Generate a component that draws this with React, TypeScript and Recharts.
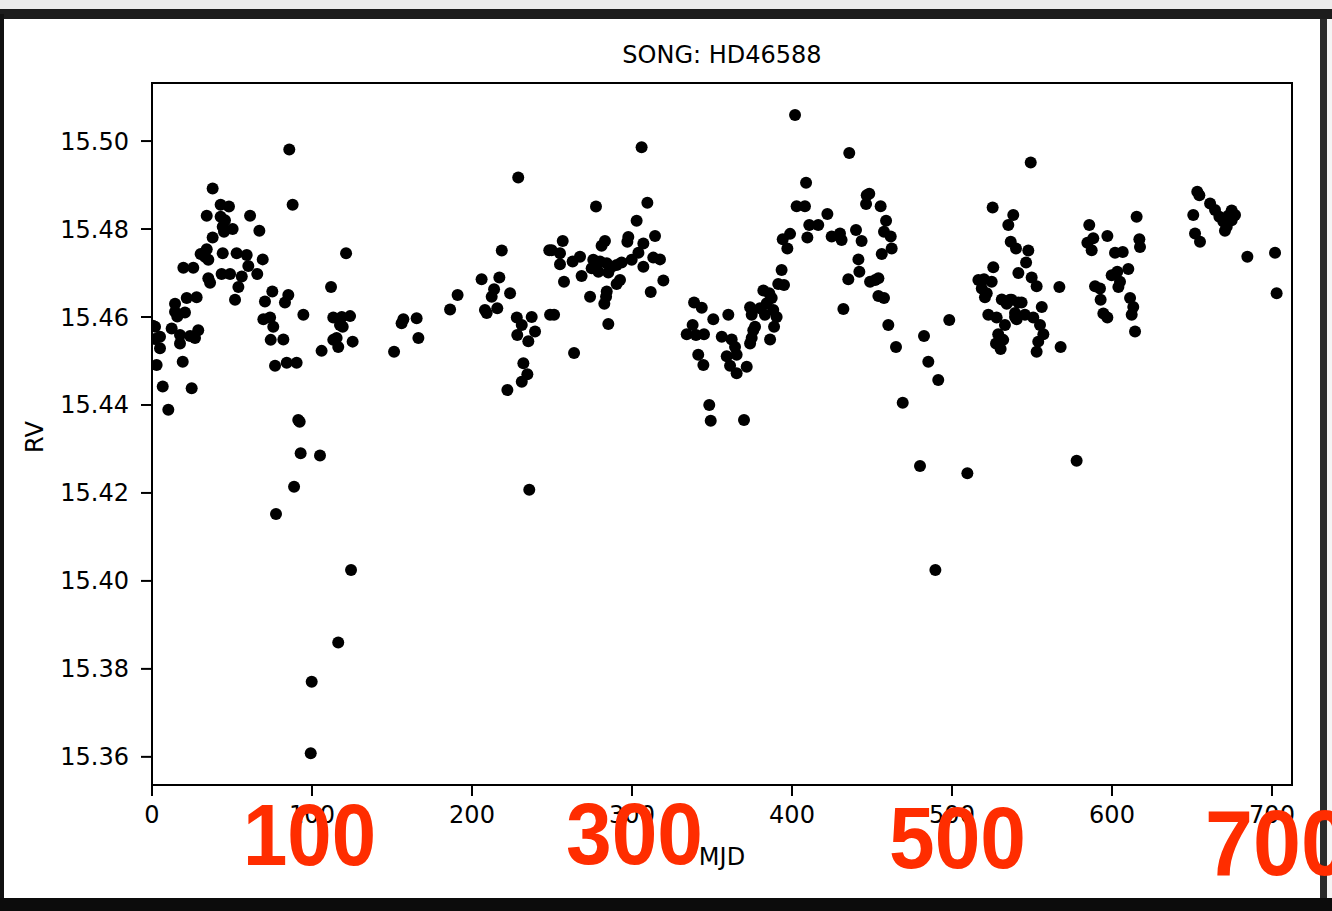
import React from 'react';
import { ScatterChart, Scatter, XAxis, YAxis, ReferenceArea } from 'recharts';

// Season 1
const s1Mjd = [0.5, 2, 1.9, 5, 5, 2.9, 6.7, 10.2, 12.3, 17.5, 23.8, 26.9, 28.9, 17.5, 19.2, 24.8, 14.4, 14.4, 20.6, 15.8, 21.7, 27.9, 19.6, 25.8, 30.4, 33.1, 34.2, 35.2, 35.2, 36.3, 37.9, 37.9, 34.2, 42.9, 48.1, 42.9, 45.6, 44.2, 50.4, 45, 44.2, 52.9, 59.2, 43.5, 48.8, 56.1, 54, 51.9, 60.2, 61.3, 65.8, 67.1, 69.2, 70.6, 69.6, 73.8, 75.2, 75.8, 74.2, 76.9, 77.5, 82.1, 83.1, 85.2, 84.2, 85.8, 87.9, 88.8, 90.4, 91.4, 92.3, 92.9, 94.6, 99.2, 99.8, 105, 106, 111.9, 113.3, 113.3, 115.4, 116.4, 116.4, 117.5, 118.6, 119.2, 121.3, 123.8, 124.4, 125.4];
const s1Rv = [15.458, 15.455, 15.4578, 15.4555, 15.4529, 15.4491, 15.4442, 15.4389, 15.4574, 15.4559, 15.4557, 15.4552, 15.457, 15.454, 15.4498, 15.4438, 15.463, 15.4612, 15.461, 15.4601, 15.4643, 15.4645, 15.4712, 15.4712, 15.4743, 15.4737, 15.4754, 15.473, 15.4688, 15.4678, 15.4781, 15.4892, 15.483, 15.4855, 15.4851, 15.4828, 15.482, 15.4805, 15.48, 15.4794, 15.4745, 15.4745, 15.4741, 15.4698, 15.4698, 15.4692, 15.4668, 15.4639, 15.4716, 15.483, 15.4698, 15.4796, 15.4731, 15.4635, 15.4595, 15.4599, 15.4658, 15.4578, 15.4548, 15.4489, 15.4152, 15.4549, 15.4633, 15.465, 15.4496, 15.4981, 15.4855, 15.4214, 15.4496, 15.4366, 15.4362, 15.429, 15.4605, 15.3608, 15.3771, 15.4285, 15.4523, 15.4668, 15.4599, 15.4548, 15.4552, 15.4532, 15.386, 15.4582, 15.46, 15.4578, 15.4745, 15.4602, 15.4025, 15.4544];

// Season 2
const s2Mjd = [151.3, 156, 157.1, 165.4, 166.5, 186.3, 191, 206, 208.1, 209.2, 212.3, 213.8, 215.8, 217.1, 218.6, 222.1, 223.8, 228, 228.3, 228.9, 231.1, 231.1, 232.1, 234.6, 235.2, 235.8, 237.3, 239.4, 248.3, 248.8, 249.8, 251.3, 255, 255, 256.7, 257.5, 262.9, 263.8, 267.5, 268.5, 273.8, 274.8, 275.8, 277.5, 279, 280, 281, 282.7, 283.1, 283.8, 284.2, 284.2, 285.2, 285.2, 287.3, 290.4, 290.4, 292.5, 293.5, 297.1, 297.7, 299.8, 302.9, 304, 306, 307.1, 307.1, 309.6, 311.7, 313.3, 314.4, 317.5, 319.6];
const s2Rv = [15.4521, 15.4586, 15.4595, 15.4597, 15.4552, 15.4617, 15.465, 15.4686, 15.4616, 15.4609, 15.4646, 15.4663, 15.462, 15.469, 15.4751, 15.4434, 15.4654, 15.4599, 15.4559, 15.4917, 15.4582, 15.4453, 15.4495, 15.447, 15.4545, 15.4207, 15.46, 15.4567, 15.4752, 15.4605, 15.4752, 15.4605, 15.4745, 15.472, 15.4773, 15.468, 15.4726, 15.4518, 15.4737, 15.4693, 15.4646, 15.4711, 15.473, 15.4851, 15.4703, 15.4726, 15.4762, 15.463, 15.4773, 15.4646, 15.4722, 15.4658, 15.4701, 15.4584, 15.4714, 15.4718, 15.4675, 15.4684, 15.4724, 15.4771, 15.4782, 15.473, 15.4819, 15.4746, 15.4986, 15.4767, 15.4714, 15.486, 15.4657, 15.4735, 15.4784, 15.4731, 15.4683];

// Season 3
const s3Mjd = [334.2, 337.9, 338.8, 340, 341.4, 343.6, 344.6, 345, 348.3, 349.2, 350.8, 356.1, 359.2, 360.2, 361.3, 362.3, 364.4, 365.4, 365.4, 370, 371.7, 373.8, 373.8, 374.8, 374.8, 375.8, 376.9, 380, 382.1, 383.1, 384.2, 385.8, 386.3, 387.3, 388.3, 388.8, 390.4, 391.4, 393.5, 394.2, 395, 397.1, 398.8, 401.9, 402.9, 408.1, 408.8, 409.6, 410.8, 416.4, 422.1, 424.8, 430, 431, 432.1, 435.2, 435.8, 440, 441.5, 442.1, 443.5, 446.3, 446.7, 448.3, 448.8, 452, 454, 454, 455.4, 456.1, 457.5, 457.5, 458.8, 460.2, 461.7, 462.3, 465, 469.2, 480, 482.5, 485.2, 489.6, 491.4, 498.3, 509.6];
const s3Rv = [15.4561, 15.4582, 15.4633, 15.4559, 15.4514, 15.4621, 15.4491, 15.4561, 15.44, 15.4364, 15.4595, 15.4555, 15.4511, 15.4605, 15.4489, 15.4549, 15.4532, 15.4514, 15.4472, 15.4366, 15.4487, 15.4622, 15.454, 15.4605, 15.4552, 15.457, 15.4578, 15.462, 15.466, 15.4605, 15.4631, 15.4654, 15.4549, 15.4643, 15.4616, 15.4578, 15.46, 15.4675, 15.4707, 15.4777, 15.4673, 15.4756, 15.4789, 15.5059, 15.4852, 15.4852, 15.4905, 15.4781, 15.4809, 15.4809, 15.4834, 15.4783, 15.479, 15.4775, 15.4618, 15.4686, 15.4973, 15.4798, 15.4731, 15.4703, 15.4773, 15.4857, 15.4877, 15.488, 15.468, 15.4684, 15.4688, 15.4648, 15.4852, 15.4743, 15.4794, 15.4643, 15.4819, 15.4582, 15.4783, 15.4756, 15.4532, 15.4405, 15.4261, 15.4557, 15.4498, 15.4025, 15.4457, 15.4593, 15.4245];

// Season 4
const s4Mjd = [516.5, 518.6, 520, 520.6, 521.7, 522.7, 524.8, 525.4, 525.8, 527.5, 527.9, 528.9, 530.4, 531.1, 532, 533.1, 534.2, 535.2, 536.3, 536.7, 537.3, 538.3, 539.4, 539.4, 540, 540.4, 541.5, 541.5, 543.5, 545.6, 546.3, 547.7, 549.2, 549.8, 550.8, 552.9, 552.9, 553.9, 555, 556.1, 557.1, 567.1, 567.9, 577.9, 584.6, 585.8, 587.3, 588.3, 589.4, 592.5, 592.9, 594.6, 597.1, 597.1, 599.8, 601.9, 603.3, 604, 605, 606.7, 610.2, 611.3, 612.3, 613.3, 614.4, 615.4, 617.1, 617.5];
const s4Rv = [15.4684, 15.4665, 15.4686, 15.4645, 15.4654, 15.4605, 15.468, 15.4849, 15.4713, 15.454, 15.4599, 15.4561, 15.4527, 15.464, 15.4548, 15.4582, 15.463, 15.4809, 15.4639, 15.4771, 15.4639, 15.4832, 15.46, 15.4609, 15.4756, 15.4595, 15.47, 15.4633, 15.4633, 15.4605, 15.4724, 15.4751, 15.4951, 15.469, 15.4599, 15.467, 15.4521, 15.4544, 15.4582, 15.4623, 15.4561, 15.4668, 15.4532, 15.4273, 15.4769, 15.4809, 15.4752, 15.4779, 15.467, 15.4665, 15.4639, 15.4608, 15.4599, 15.4784, 15.4695, 15.4746, 15.4703, 15.4668, 15.468, 15.4748, 15.4709, 15.4643, 15.4605, 15.4623, 15.4567, 15.4828, 15.4777, 15.4759];

// Season 5
const s5Mjd = [650.8, 651.9, 653.3, 654.6, 655, 661.3, 664.4, 667.1, 669.6, 670.6, 671.7, 672.7, 674.8, 674.8, 676.9, 684.6, 701.9, 702.9];
const s5Rv = [15.4832, 15.479, 15.4885, 15.4877, 15.4771, 15.4858, 15.4843, 15.4828, 15.4817, 15.4796, 15.4805, 15.483, 15.4842, 15.482, 15.4832, 15.4737, 15.4746, 15.4654];

const xTicks = [0, 100, 200, 300, 400, 500, 600, 700];
const yTicks = [15.36, 15.38, 15.40, 15.42, 15.44, 15.46, 15.48, 15.50];
const xDomain = [0, 712.5];
const yDomain = [15.3536, 15.5132];

const title = 'SONG: HD46588';
const xLabel = 'MJD';
const yLabel = 'RV';
const overlayLabels = ['100', '300', '500', '700'];

const allMjd = [...s1Mjd, ...s2Mjd, ...s3Mjd, ...s4Mjd, ...s5Mjd];
const allRv = [...s1Rv, ...s2Rv, ...s3Rv, ...s4Rv, ...s5Rv];
const data = allMjd.map((m, i) => ({ mjd: m, rv: allRv[i] }));

const FONT = '"DejaVu Sans", sans-serif';

const Dot = (props: any) => {
  const { cx, cy } = props;
  if (cx == null || cy == null) return null;
  return <circle cx={cx} cy={cy} r={6} fill="#000" />;
};

export default function App() {
  const tickStyle = { fontSize: 24, fontFamily: FONT, fill: '#000' };
  return (
    <div style={{ position: 'absolute', left: 0, top: 0, width: 1332, height: 911, background: '#fff', overflow: 'hidden' }}>
      {/* frame */}
      <div style={{ position: 'absolute', left: 0, top: 0, width: 1332, height: 9, background: '#ececec' }} />
      <div style={{ position: 'absolute', left: 0, top: 9, width: 1332, height: 10, background: '#1c1c1c' }} />
      <div style={{ position: 'absolute', left: 0, top: 14, width: 4, height: 897, background: '#111' }} />
      <div style={{ position: 'absolute', left: 1320, top: 19, width: 7, height: 880, background: '#2a2a2a' }} />
      <div style={{ position: 'absolute', left: 1327, top: 19, width: 5, height: 880, background: '#f4f4f4' }} />
      <div style={{ position: 'absolute', left: 0, top: 898, width: 1332, height: 13, background: '#0c0c0c' }} />

      <div style={{ position: 'absolute', left: 0, top: 0 }}>
        <ScatterChart width={1332} height={911} margin={{ top: 83, right: 40, bottom: 66, left: 52 }}>
          <XAxis
            type="number"
            dataKey="mjd"
            domain={xDomain}
            ticks={xTicks}
            allowDataOverflow
            height={60}
            tickSize={11}
            tickMargin={10}
            stroke="#000"
            strokeWidth={2}
            tick={tickStyle}
            tickLine={{ stroke: '#000', strokeWidth: 2 }}
          />
          <YAxis
            type="number"
            dataKey="rv"
            domain={yDomain}
            ticks={yTicks}
            allowDataOverflow
            width={100}
            tickSize={11}
            tickMargin={12}
            stroke="#000"
            strokeWidth={2}
            tick={tickStyle}
            tickLine={{ stroke: '#000', strokeWidth: 2 }}
            tickFormatter={(v: number) => v.toFixed(2)}
          />
          <ReferenceArea
            x1={xDomain[0]}
            x2={xDomain[1]}
            y1={yDomain[0]}
            y2={yDomain[1]}
            fill="none"
            fillOpacity={0}
            stroke="#000"
            strokeWidth={2}
            ifOverflow="visible"
          />
          <Scatter data={data} fill="#000" shape={Dot} isAnimationActive={false} />
        </ScatterChart>
      </div>

      <svg width={1332} height={911} style={{ position: 'absolute', left: 0, top: 0, pointerEvents: 'none' }}>
        <text x={722} y={63} textAnchor="middle" fontFamily={FONT} fontSize={24} fill="#000">{title}</text>
        <text x={722} y={865} textAnchor="middle" fontFamily={FONT} fontSize={24} fill="#000">{xLabel}</text>
        <text x={0} y={0} transform="translate(43,437) rotate(-90)" textAnchor="middle" fontFamily={FONT} fontSize={24} fill="#000">{yLabel}</text>
        <g fontFamily='"Liberation Sans", Arial, sans-serif' fontWeight="bold" fill="#ff2d00">
          <text x={243} y={865} fontSize={88} textLength={133} lengthAdjust="spacingAndGlyphs">{overlayLabels[0]}</text>
          <text x={566} y={864} fontSize={88} textLength={137} lengthAdjust="spacingAndGlyphs">{overlayLabels[1]}</text>
          <text x={889} y={868} fontSize={88} textLength={137} lengthAdjust="spacingAndGlyphs">{overlayLabels[2]}</text>
          <text x={1205} y={875} fontSize={93} textLength={144} lengthAdjust="spacingAndGlyphs">{overlayLabels[3]}</text>
        </g>
      </svg>
    </div>
  );
}
